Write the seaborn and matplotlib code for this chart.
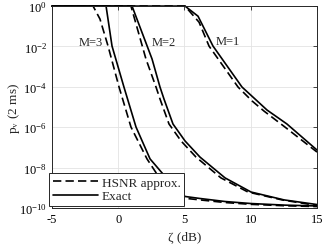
import numpy as np
import pandas as pd
import seaborn as sns
import matplotlib.pyplot as plt
from matplotlib.ticker import FixedLocator, NullLocator, LogFormatterMathtext

# zeta (dB) and log10 p_v (2 ms)
m1_exact_x = [-5, 5.04, 6.02, 7.15, 9.34, 10.32, 11.23, 12.73, 15.0]
m1_exact_y = [0, 0, -0.50, -1.98, -4.01, -4.60, -5.15, -5.84, -7.13]
m1_hsnr_x = [-5, 5.04, 6.10, 6.85, 9.04, 10.10, 11.00, 12.50, 15.0]
m1_hsnr_y = [0, 0, -0.80, -1.98, -4.01, -4.70, -5.20, -5.95, -7.23]

m2_exact_x = [-5, 1.04, 2.55, 3.15, 3.45, 4.13, 5.04, 6.17, 8.06, 10.02, 12.51, 15.0]
m2_exact_y = [0, 0, -2.62, -4.01, -4.60, -5.84, -6.68, -7.48, -8.51, -9.21, -9.60, -9.83]
m2_hsnr_x = [-5, 0.96, 2.09, 2.85, 3.15, 3.83, 4.74, 5.87, 7.75, 9.79, 12.36, 15.0]
m2_hsnr_y = [0, 0, -2.62, -4.01, -4.60, -5.84, -6.68, -7.48, -8.51, -9.21, -9.60, -9.88]

m3_exact_x = [-5, -0.92, -0.47, 0.43, 1.34, 2.40, 3.38, 5.04, 6.17, 8.06, 10.02, 12.60, 15.0]
m3_exact_y = [0, 0, -1.98, -4.01, -5.99, -7.57, -8.32, -9.43, -9.53, -9.68, -9.78, -9.86, -9.90]
m3_hsnr_x = [-5, -1.90, -1.38, -0.77, 0.06, 0.96, 2.17, 2.92, 5.04, 6.17, 8.06, 10.02, 12.60, 15.0]
m3_hsnr_y = [0, 0, -0.64, -1.98, -4.01, -5.99, -7.57, -8.32, -9.52, -9.60, -9.73, -9.82, -9.89, -9.93]

curves = {
    ("M=1", "Exact"): (m1_exact_x, m1_exact_y),
    ("M=1", "HSNR approx."): (m1_hsnr_x, m1_hsnr_y),
    ("M=2", "Exact"): (m2_exact_x, m2_exact_y),
    ("M=2", "HSNR approx."): (m2_hsnr_x, m2_hsnr_y),
    ("M=3", "Exact"): (m3_exact_x, m3_exact_y),
    ("M=3", "HSNR approx."): (m3_hsnr_x, m3_hsnr_y),
}

rows = []
for (m, kind), (xs, ys) in curves.items():
    for x, y in zip(xs, ys):
        rows.append({"zeta": x, "p": 10.0 ** y, "curve": m + kind, "kind": kind})
df = pd.DataFrame(rows)

sns.set_style("white")
plt.rcParams["font.family"] = ["Liberation Serif", "DejaVu Serif"]
plt.rcParams["mathtext.fontset"] = "stix"
plt.rcParams["axes.unicode_minus"] = False

fig = plt.figure(figsize=(3.26, 2.53), dpi=100)
ax = fig.add_axes([0.1595, 0.174, 0.8129, 0.798])
ax.set_yscale("log")

sns.lineplot(data=df, x="zeta", y="p", units="curve", estimator=None,
             style="kind", style_order=["HSNR approx.", "Exact"],
             dashes={"HSNR approx.": (5, 2.5), "Exact": ""},
             color="black", linewidth=1.2, ax=ax)
for ln in ax.get_lines():
    ln.set_clip_on(False)

ax.set_xlim(-5, 15)
ax.set_ylim(1e-10, 1)
ax.set_xticks([-5, 0, 5, 10, 15])
ax.yaxis.set_major_locator(FixedLocator([1e-10, 1e-8, 1e-6, 1e-4, 1e-2, 1e0]))
ax.yaxis.set_minor_locator(NullLocator())
ax.yaxis.set_major_formatter(LogFormatterMathtext())
ax.grid(True, color="#e3e3e3", linewidth=0.6)
ax.tick_params(direction="in", length=3, width=0.6, labelsize=9,
               top=True, right=True, colors="#262626")
ax.tick_params(axis="both", labelcolor="black")
for s in ax.spines.values():
    s.set_linewidth(0.7)
    s.set_color("#262626")

ax.set_xlabel("ζ (dB)", fontsize=9.5, labelpad=4)
ax.set_ylabel(r"p$_{\rm v}$ (2 ms)", fontsize=9.5)
ax.yaxis.set_label_coords(-0.115, 0.5)

ax.text(-2.06, 10 ** -1.78, "M=3", fontsize=9, ha="center", va="center")
ax.text(3.45, 10 ** -1.78, "M=2", fontsize=9, ha="center", va="center")
ax.text(8.28, 10 ** -1.73, "M=1", fontsize=9, ha="center", va="center")

handles, labels = ax.get_legend_handles_labels()
leg = ax.legend(handles, labels, loc="lower left", bbox_to_anchor=(-0.012, 0.008),
                borderaxespad=0, fontsize=9.5, handlelength=3.4, handletextpad=0.3,
                labelspacing=0.1, borderpad=0.3, fancybox=False, framealpha=1)
leg.get_frame().set_edgecolor("#262626")
leg.get_frame().set_linewidth(0.7)

fig.savefig("out.png", dpi=100)
